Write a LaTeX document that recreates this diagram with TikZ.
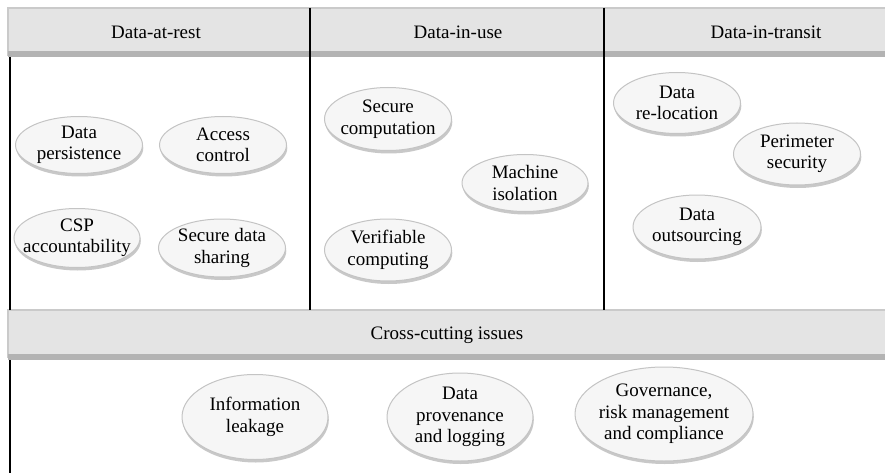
\documentclass[tikz,border=0pt]{standalone}
\usepackage{fontspec}
\setmainfont{Liberation Serif}
\usetikzlibrary{shapes.geometric,shadows}
\definecolor{barfill}{HTML}{E4E4E4}
\definecolor{baredge}{HTML}{CACACA}
\definecolor{barshade}{HTML}{B3B3B3}
\definecolor{ellfill}{HTML}{F6F6F6}
\definecolor{elledge}{HTML}{C4C4C4}
\definecolor{ellshade}{HTML}{C8C8C8}
\tikzset{
  bar/.style={fill=barfill, draw=baredge, line width=1.5pt},
  divider/.style={draw=black, line width=1.6pt},
  topic/.style={ellipse, draw=elledge, line width=1pt, fill=ellfill, inner sep=0pt,
    drop shadow={shadow xshift=0.8pt, shadow yshift=-3pt, fill=ellshade, opacity=1}},
  topictext/.style={align=center, inner sep=0pt, font=\fontsize{19}{21.5}\selectfont},
  head/.style={font=\fontsize{19}{21.5}\selectfont, inner sep=0pt}
}
\begin{document}
\begin{tikzpicture}[x=1pt,y=-1pt]
\useasboundingbox (0,0) rectangle (885,473);
\fill[white] (0,0) rectangle (885,473);
% header bar
\draw[bar] (8,8) rectangle (895,55);
\fill[barshade] (8,51) rectangle (895,57);
\node[head] (h1) at (156,32) {Data-at-rest};
\node[head] (h2) at (458,32) {Data-in-use};
\node[head] (h3) at (766,32) {Data-in-transit};
% cross-cutting bar
\draw[bar] (8,310) rectangle (895,357);
\fill[barshade] (8,354) rectangle (895,360);
\node[head] (cc) at (447,335) {Cross-cutting issues};
% vertical lines
\coordinate (l1) at (10,57); \coordinate (l2) at (10,310);
\coordinate (l3) at (10,360); \coordinate (l4) at (10,473);
\coordinate (d1t) at (310,8); \coordinate (d1b) at (310,310);
\coordinate (d2t) at (604,8); \coordinate (d2b) at (604,310);
\draw[divider] (l1) -- (l2);
\draw[divider] (l3) -- (l4);
\draw[divider] (d1t) -- (d1b);
\draw[divider] (d2t) -- (d2b);
% Data-at-rest
\node[topic, minimum width=127pt, minimum height=57pt] (dp) at (79,145) {};
\node[topictext] (dpt) at (dp.center) {Data\\persistence};
\node[topic, minimum width=127pt, minimum height=57pt] (ac) at (223,145) {};
\node[topictext] (act) at (ac.center) {Access\\control};
\node[topic, minimum width=126pt, minimum height=59pt] (csp) at (77,238) {};
\node[topictext] (cspt) at (csp.center) {CSP\\accountability};
\node[topic, minimum width=127pt, minimum height=58pt] (sds) at (222,248) {};
\node[topictext] (sdst) at (sds.center) {Secure data\\sharing};
% Data-in-use
\node[topic, minimum width=127pt, minimum height=63pt] (sc) at (388,119) {};
\node[topictext] (sct) at (sc.center) {Secure\\computation};
\node[topic, minimum width=126pt, minimum height=57pt] (mi) at (525,183) {};
\node[topictext] (mit) at (mi.center) {Machine\\isolation};
\node[topic, minimum width=127pt, minimum height=62pt] (vc) at (388,250) {};
\node[topictext] (vct) at (vc.center) {Verifiable\\computing};
% Data-in-transit
\node[topic, minimum width=127pt, minimum height=61pt] (dr) at (677,103) {};
\node[topictext] (drt) at (dr.center) {Data\\re-location};
\node[topic, minimum width=127pt, minimum height=62pt] (ps) at (797,154) {};
\node[topictext] (pst) at (ps.center) {Perimeter\\security};
\node[topic, minimum width=128pt, minimum height=64pt] (do) at (697,227) {};
\node[topictext] (dot) at (do.center) {Data\\outsourcing};
% Cross-cutting
\node[topic, minimum width=146pt, minimum height=85pt] (il) at (255,417) {};
\node[topictext] (ilt) at (il.center) {Information\\leakage};
\node[topic, minimum width=146pt, minimum height=88pt] (dpl) at (460,417) {};
\node[topictext] (dplt) at (dpl.center) {Data\\provenance\\and logging};
\node[topic, minimum width=178pt, minimum height=94pt] (gov) at (664,414) {};
\node[topictext] (govt) at (gov.center) {Governance,\\risk management\\and compliance};
\end{tikzpicture}
\end{document}
